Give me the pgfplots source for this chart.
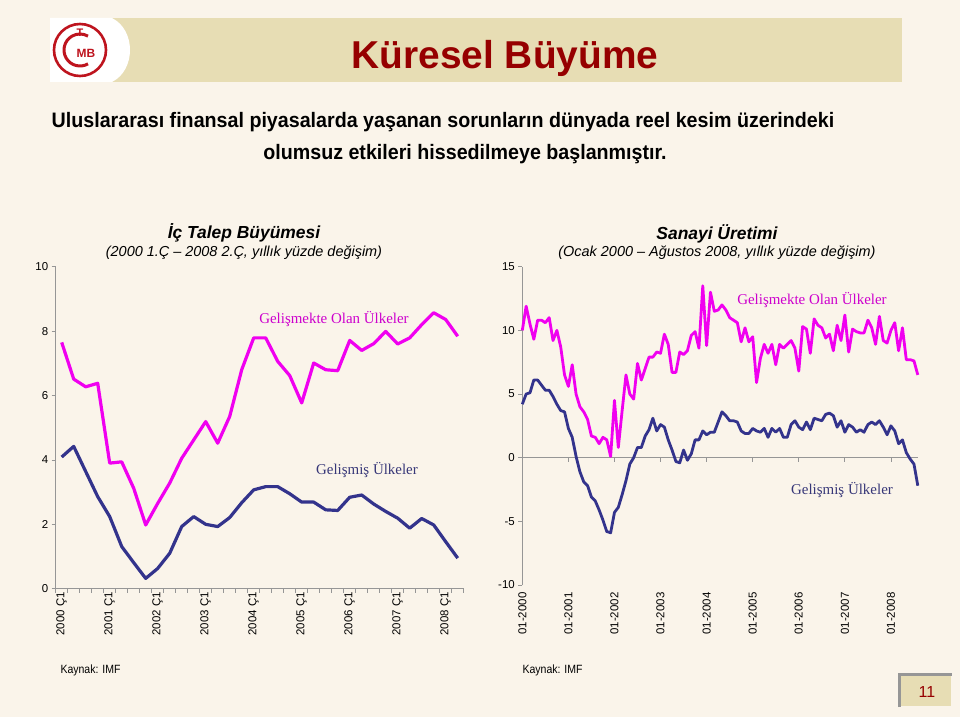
\documentclass[border=0pt]{standalone}
\usepackage{pgfplots}
\pgfplotsset{compat=1.18}
\usepackage{pgfplotstable}
\usepackage{fontspec}
\setmainfont{Liberation Sans}
\newfontfamily\serifff{Liberation Serif}
\newfontfamily\narrowfont[FakeStretch=0.94]{Liberation Sans}
\newfontfamily\narrowsmall[FakeStretch=0.88]{Liberation Sans}
\definecolor{bg}{RGB}{250,244,234}
\definecolor{banner}{RGB}{231,221,180}
\definecolor{titlered}{RGB}{150,0,0}
\definecolor{logored}{RGB}{190,20,30}
\definecolor{pinkline}{RGB}{240,0,240}
\definecolor{navyline}{RGB}{51,51,140}
\definecolor{pinktext}{RGB}{205,0,205}
\definecolor{navytext}{RGB}{55,55,120}
\definecolor{axisgray}{RGB}{150,150,150}

\pgfplotstableread{
emg dev
7.65 4.09
6.51 4.42
6.27 3.64
6.38 2.86
3.90 2.24
3.94 1.31
3.12 0.81
1.98 0.32
2.65 0.63
3.28 1.10
4.05 1.93
4.62 2.24
5.19 2.00
4.52 1.93
5.35 2.21
6.80 2.67
7.79 3.07
7.79 3.17
7.06 3.17
6.62 2.95
5.77 2.69
7.01 2.69
6.80 2.45
6.77 2.43
7.71 2.84
7.40 2.91
7.61 2.63
7.99 2.40
7.60 2.19
7.79 1.88
8.20 2.18
8.57 1.98
8.36 1.46
7.84 0.95
}\leftdata

\pgfplotstableread{
emg dev
10.0 4.2
11.9 5.0
10.5 5.1
9.3 6.1
10.8 6.1
10.8 5.7
10.6 5.3
11.0 5.3
9.2 4.8
10.0 4.2
8.7 3.7
6.5 3.6
5.6 2.3
7.3 1.6
5.0 0.1
4.0 -1.1
3.6 -1.9
3.0 -2.2
1.7 -3.1
1.6 -3.4
1.1 -4.1
1.6 -4.9
1.4 -5.8
0.1 -5.9
4.5 -4.3
0.8 -3.9
3.7 -2.9
6.5 -1.8
5.0 -0.5
4.6 0.0
7.4 0.8
6.1 0.8
7.0 1.7
7.9 2.2
7.9 3.1
8.3 2.1
8.2 2.6
9.7 2.4
8.9 1.4
6.7 0.6
6.7 -0.3
8.3 -0.4
8.1 0.6
8.4 -0.2
9.6 0.3
9.9 1.4
8.6 1.4
13.5 2.1
8.8 1.8
13.0 2.0
11.5 2.0
11.6 2.8
12.0 3.6
11.6 3.3
11.0 2.9
10.8 2.9
10.6 2.8
9.1 2.1
10.2 1.9
9.1 1.9
9.5 2.3
5.9 2.1
7.8 2.0
8.9 2.3
8.2 1.6
8.9 2.3
7.3 2.0
8.9 2.3
8.6 1.6
8.9 1.6
9.2 2.6
8.6 2.9
6.8 2.4
10.3 2.2
10.1 2.8
8.2 2.2
10.9 3.1
10.4 3.0
10.2 2.9
9.4 3.4
9.7 3.5
8.4 3.3
10.4 2.4
9.2 2.9
11.2 2.0
8.3 2.6
10.1 2.4
9.9 2.0
9.8 2.2
9.8 2.0
10.8 2.6
10.2 2.8
8.9 2.6
11.1 2.9
9.2 2.4
9.0 1.8
10.0 2.5
10.6 2.1
8.4 1.1
10.2 1.4
7.7 0.4
7.7 -0.1
7.6 -0.5
6.5 -2.2
}\rightdata

\pgfplotsset{
  slide/.style={
    scale only axis,
    axis x line*=bottom,
    axis y line*=left,
    axis line style={-, draw=axisgray, line width=0.8bp},
    tick style={draw=axisgray, line width=0.8bp},
    tick align=outside,
    major tick length=4bp,
    ticklabel style={font=\fontsize{11.5}{13}\selectfont},
    xticklabel style={rotate=90, anchor=east},
    clip=false,
  },
}

\begin{document}
\begin{tikzpicture}[x=1bp,y=-1bp]
\fill[bg] (0,0) rectangle (960,717);
\useasboundingbox (0,0) rectangle (960,717);

% banner
\fill[banner] (110,18) rectangle (902,82);
\fill[white] (50,18) -- (112,18) .. controls (136,30) and (136,70) .. (112,82) -- (50,82) -- cycle;
% logo
\draw[logored, line width=2.6bp] (80,50) circle (26);
\draw[logored, line width=3bp] (80,50) ++(60:16) arc[start angle=60, end angle=300, radius=16];
\node[text=logored, font=\fontsize{11}{11}\selectfont\bfseries] at (80,33) {T};
\node[text=logored, font=\fontsize{12}{12}\selectfont\bfseries] at (86,53) {MB};

% titles
\node[anchor=base, text=titlered, font=\fontsize{39}{40}\selectfont\bfseries] at (505,69) {Küresel Büyüme};
\node[anchor=base, font=\fontsize{21}{23}\selectfont\bfseries\narrowfont] at (443,128) {Uluslararası finansal piyasalarda yaşanan sorunların dünyada reel kesim üzerindeki};
\node[anchor=base, font=\fontsize{21}{23}\selectfont\bfseries\narrowfont] at (465,160) {olumsuz etkileri hissedilmeye başlanmıştır.};

% chart titles
\node[anchor=base, font=\fontsize{17.5}{19}\selectfont\bfseries\itshape] at (244,238) {İç Talep Büyümesi};
\node[anchor=base, font=\fontsize{14.5}{16}\selectfont\itshape] at (244,256) {(2000 1.Ç -- 2008 2.Ç, yıllık yüzde değişim)};
\node[anchor=base, font=\fontsize{17.5}{19}\selectfont\bfseries\itshape] at (717,239) {Sanayi Üretimi};
\node[anchor=base, font=\fontsize{14.5}{16}\selectfont\itshape] at (717,256) {(Ocak 2000 -- Ağustos 2008, yıllık yüzde değişim)};

% left chart
\begin{axis}[slide,
  at={(55.7bp,-588.7bp)}, anchor=south west,
  width=408bp, height=322bp,
  xmin=-0.5, xmax=33.5, ymin=0, ymax=10,
  ytick={0,2,4,6,8,10}, yticklabels={0,2,4,6,8,10},
  xtick={-0.5,0.5,...,33.5}, xticklabels={},
  extra x ticks={0,4,8,12,16,20,24,28,32},
  extra x tick labels={2000 Ç1,2001 Ç1,2002 Ç1,2003 Ç1,2004 Ç1,2005 Ç1,2006 Ç1,2007 Ç1,2008 Ç1},
  extra x tick style={major tick length=0pt},
]
\addplot[pinkline, line width=3.2bp, line join=round, no marks] table[x expr=\coordindex, y=emg] {\leftdata};
\addplot[navyline, line width=3.2bp, line join=round, no marks] table[x expr=\coordindex, y=dev] {\leftdata};
\end{axis}

% right chart
\begin{axis}[slide,
  at={(522.3bp,-585bp)}, anchor=south west,
  width=395.5bp, height=318.3bp,
  xmin=0, xmax=103, ymin=-10, ymax=15,
  x axis line style={draw=none},
  xtick style={draw=none},
  ytick={-10,-5,0,5,10,15}, yticklabels={-10,-5,0,5,10,15},
  xtick={0,12,24,36,48,60,72,84,96},
  xticklabels={01-2000,01-2001,01-2002,01-2003,01-2004,01-2005,01-2006,01-2007,01-2008},
]
\draw[axisgray, line width=0.8bp] (axis cs:0,0) -- (axis cs:103,0);
\pgfplotsinvokeforeach{12,24,36,48,60,72,84,96}{
  \draw[axisgray, line width=0.8bp] (axis cs:#1,0) -- (axis cs:#1,-0.32);
}
\addplot[pinkline, line width=2.8bp, line join=round, no marks] table[x expr=\coordindex, y=emg] {\rightdata};
\addplot[navyline, line width=2.8bp, line join=round, no marks] table[x expr=\coordindex, y=dev] {\rightdata};
\end{axis}

% series labels
\node[text=pinktext, font=\fontsize{15}{17}\selectfont\serifff] at (334,319) {Gelişmekte Olan Ülkeler};
\node[text=navytext, font=\fontsize{15}{17}\selectfont\serifff] at (367,470) {Gelişmiş Ülkeler};
\node[text=pinktext, font=\fontsize{15}{17}\selectfont\serifff] at (812,300) {Gelişmekte Olan Ülkeler};
\node[text=navytext, font=\fontsize{15}{17}\selectfont\serifff] at (842,490) {Gelişmiş Ülkeler};

% sources
\node[anchor=base west, font=\fontsize{12}{13}\selectfont\narrowsmall] at (57,673) {Kaynak: IMF};
\node[anchor=base west, font=\fontsize{12}{13}\selectfont\narrowsmall] at (519,673) {Kaynak: IMF};

% page number box
\fill[banner] (899,674) rectangle (951,706);
\draw[axisgray, line width=3bp] (899,707) -- (899,674) -- (952,674);
\node[text=titlered, font=\fontsize{16}{18}\selectfont] at (927,692) {11};
\end{tikzpicture}
\end{document}
